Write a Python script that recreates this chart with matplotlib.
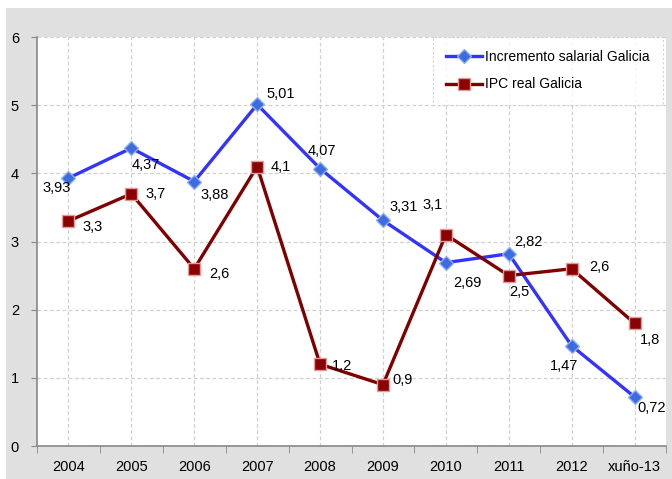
import matplotlib.pyplot as plt
import matplotlib.patches as patches
import numpy as np

# data
years = ['2004', '2005', '2006', '2007', '2008', '2009', '2010', '2011', '2012', 'xuño-13']
salario = [3.93, 4.37, 3.88, 5.01, 4.07, 3.31, 2.69, 2.82, 1.47, 0.72]
ipc = [3.3, 3.7, 2.6, 4.1, 1.2, 0.9, 3.1, 2.5, 2.6, 1.8]

# label offsets in pixels (dx, dy), dy positive = up
off_sal = [(-12, -10), (14, -17), (20, -13), (24, 10), (2, 18),
           (21, 13), (22, -20), (20, 12), (-8, -20), (17, -11)]
off_ipc = [(24, -6), (24, 0), (25, -5), (24, 0), (22, -2),
           (20, 5), (-13, 30), (11, -16), (28, 2), (15, -17)]

plt.rcParams['font.family'] = ['Liberation Sans', 'DejaVu Sans']

fig = plt.figure(figsize=(6.72, 4.79), dpi=100)
fig.patch.set_facecolor('white')
# grey chart area background
fig.patches.append(patches.Rectangle((6 / 672, 0), 1, 1 - 8 / 479,
                                     transform=fig.transFigure,
                                     facecolor='#E0E0E0', edgecolor='none', zorder=-1))

ax = fig.add_axes([37 / 672, 33 / 479, 629 / 672, 409 / 479])
ax.set_facecolor('white')

x = np.arange(len(years))
ax.plot(x, salario, color='#3333FF', lw=2.4, marker='D', ms=7,
        mfc='#3D6BE0', mec='#8FB0F0', mew=1, label='Incremento salarial Galicia', zorder=3)
ax.plot(x, ipc, color='#800000', lw=2.4, marker='s', ms=8,
        mfc='#8B0000', mec='#E59A9A', mew=1, label='IPC real Galicia', zorder=3)

for i in range(len(x)):
    ax.annotate(str(salario[i]).replace('.', ','), (x[i], salario[i]),
                xytext=off_sal[i], textcoords='offset pixels',
                ha='center', va='center', fontsize=10.5)
    ax.annotate(str(ipc[i]).replace('.', ','), (x[i], ipc[i]),
                xytext=off_ipc[i], textcoords='offset pixels',
                ha='center', va='center', fontsize=10.5)

ax.set_xlim(-0.5, len(years) - 0.5)
ax.set_ylim(0, 6)
ax.set_yticks(range(0, 7))
ax.set_xticks(x)
ax.set_xticklabels(years)
ax.set_xticks(np.arange(-0.5, len(years)), minor=True)
ax.tick_params(axis='x', which='major', length=0, pad=10, labelsize=10.5)
ax.tick_params(axis='x', which='minor', length=5, color='#888888')
ax.tick_params(axis='y', length=4, color='#888888', labelsize=10.5, pad=9)

ax.grid(True, which='major', ls=(0, (3, 2)), color='#D0D0D0', lw=0.9)
ax.set_axisbelow(True)
for s in ['top', 'right']:
    ax.spines[s].set_visible(False)
for s in ['left', 'bottom']:
    ax.spines[s].set_color('#888888')
    ax.spines[s].set_linewidth(1.2)

leg = ax.legend(loc='upper right', bbox_to_anchor=(1 - 3 / 629, 1.0), fontsize=10,
                frameon=True, fancybox=False, handlelength=2.6, labelspacing=0.95,
                borderpad=0.95, handletextpad=0.2, borderaxespad=0)
leg.get_frame().set_edgecolor('#C8C8C8')
leg.get_frame().set_linestyle((0, (2, 2)))
leg.get_frame().set_linewidth(0.8)

fig.savefig('out.png', dpi=100)
